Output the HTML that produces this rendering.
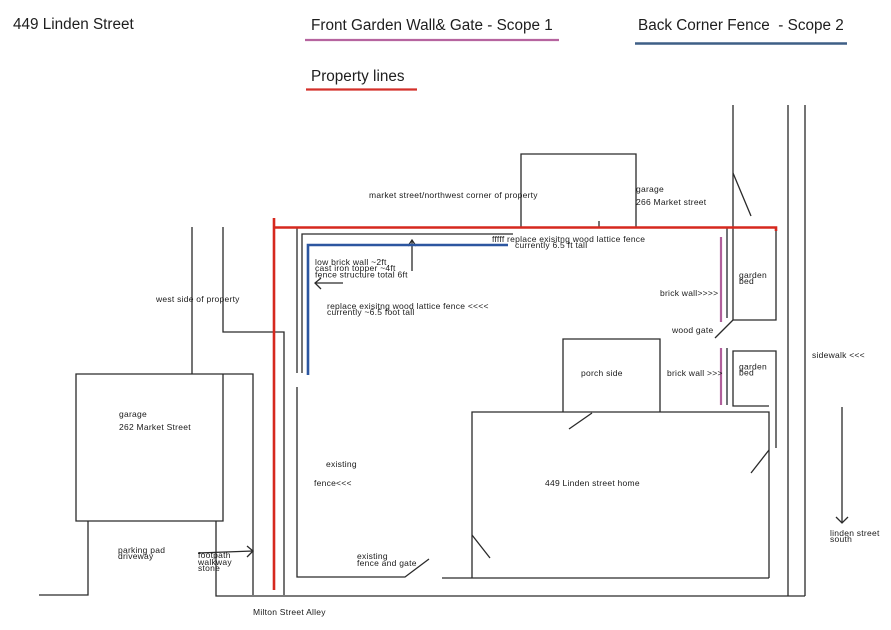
<!DOCTYPE html>
<html>
<head>
<meta charset="utf-8">
<style>
html,body{margin:0;padding:0;background:#fff;}
body{width:891px;height:630px;overflow:hidden;}
svg{display:block;}
.h{font-family:"Liberation Sans",Arial,sans-serif;font-size:15.3px;fill:#1e1e1e;white-space:pre;}
.c{font-family:"Liberation Sans",Arial,sans-serif;font-size:8.5px;letter-spacing:0.25px;fill:#1a1a1a;white-space:pre;}
</style>
</head>
<body>
<svg width="891" height="630" viewBox="0 0 891 630" xmlns="http://www.w3.org/2000/svg">
<rect width="891" height="630" fill="#fff"/>

<!-- Header -->
<text class="h" x="13" y="29">449 Linden Street</text>
<text class="h" x="311" y="30">Front Garden Wall&amp; Gate - Scope 1</text>
<line x1="305" y1="40" x2="559" y2="40" stroke="#b6649f" stroke-width="2.2"/>
<text class="h" x="638" y="30">Back Corner Fence  - Scope 2</text>
<line x1="635" y1="43.5" x2="847" y2="43.5" stroke="#3e5f86" stroke-width="2.6"/>
<text class="h" x="311" y="81">Property lines</text>
<line x1="306" y1="89.5" x2="417" y2="89.5" stroke="#d4302a" stroke-width="2.2"/>

<g fill="none" stroke="#2a2a2a" stroke-width="1.3">
  <!-- left neighbor lines -->
  <line x1="192" y1="227" x2="192" y2="374"/>
  <polyline points="223,227 223,332 284,332 284,595"/>
  <!-- garage 262 -->
  <polyline points="253,595 253,374 76,374 76,521 223,521 223,374"/>
  <polyline points="39,595 88,595 88,521"/>
  <polyline points="216,521 216,596 805,596"/>
  <!-- fence lines left -->
  <line x1="297" y1="227" x2="297" y2="373"/>
  <polyline points="297,387 297,577 405,577 429,559"/>
  <polyline points="302,373 302,234 513,234"/>
  <!-- garage 266 -->
  <polyline points="521,227 521,154 636,154 636,227"/>
  <line x1="599" y1="221" x2="599" y2="227"/>
  <!-- right street lines -->
  <line x1="733" y1="105" x2="733" y2="320"/>
  <line x1="733" y1="173" x2="751" y2="216"/>
  <line x1="788" y1="105" x2="788" y2="596"/>
  <line x1="805" y1="105" x2="805" y2="596"/>
  <!-- garden bed 1 -->
  <polyline points="776,228 776,320 733,320"/>
  <line x1="733" y1="320" x2="715" y2="338"/>
  <!-- garden bed 2 -->
  <polyline points="769,406 733,406 733,351 776,351 776,448"/>
  <!-- porch -->
  <polyline points="563,412 563,339 660,339 660,412"/>
  <!-- house -->
  <polyline points="472,578 472,412 769,412 769,578"/>
  <line x1="442" y1="578" x2="769" y2="578"/>
  <line x1="592" y1="413" x2="569" y2="429"/>
  <line x1="769" y1="450" x2="751" y2="473"/>
  <line x1="472" y1="535" x2="490" y2="558"/>
  <!-- arrows -->
  <line x1="412" y1="240" x2="412" y2="271"/>
  <polyline points="408,246 412,240 416,246"/>
  <line x1="315" y1="283" x2="343" y2="283"/>
  <polyline points="321,278 315,283 321,289"/>
  <line x1="198" y1="553" x2="253" y2="551"/>
  <polyline points="247,546 253,551 247,557"/>
  <line x1="842" y1="407" x2="842" y2="523"/>
  <polyline points="836,517 842,523 848,517"/>
</g>

<!-- grey lines near brick walls -->
<g stroke="#3d4448" stroke-width="1.5">
  <line x1="727" y1="228" x2="727" y2="318"/>
  <line x1="727" y1="348" x2="727" y2="405"/>
</g>
<!-- pink brick walls -->
<g stroke="#b0609c" stroke-width="2.2">
  <line x1="721" y1="237" x2="721" y2="322"/>
  <line x1="721" y1="348" x2="721" y2="405"/>
</g>

<!-- blue fence scope 2 -->
<polyline points="308,375 308,245 508,245" fill="none" stroke="#2c56a0" stroke-width="2.6"/>

<!-- property lines red -->
<g stroke="#d6281e" stroke-width="2.6" fill="none">
  <line x1="274" y1="218" x2="274" y2="590"/>
  <polyline points="274,227.5 776,227.5 776,231"/>
</g>

<!-- CAD labels -->
<text class="c" x="369" y="198">market street/northwest corner of property</text>
<text class="c" x="636" y="192">garage</text>
<text class="c" x="636" y="205">266 Market street</text>
<text class="c" x="492" y="242">fffff replace exisitng wood lattice fence</text>
<text class="c" x="515" y="248">currently 6.5 ft tall</text>
<text class="c" x="315" y="265">low brick wall ~2ft</text>
<text class="c" x="315" y="271">cast iron topper ~4ft</text>
<text class="c" x="315" y="277.5">fence structure total 6ft</text>
<text class="c" x="327" y="309">replace exisitng wood lattice fence &lt;&lt;&lt;&lt;</text>
<text class="c" x="327" y="315">currently ~6.5 foot tall</text>
<text class="c" x="156" y="302">west side of property</text>
<text class="c" x="119" y="417">garage</text>
<text class="c" x="119" y="430">262 Market Street</text>
<text class="c" x="326" y="467">existing</text>
<text class="c" x="314" y="486">fence&lt;&lt;&lt;</text>
<text class="c" x="118" y="553">parking pad</text>
<text class="c" x="118" y="559">driveway</text>
<text class="c" x="198" y="558">footpath</text>
<text class="c" x="198" y="565">walkway</text>
<text class="c" x="198" y="571">stone</text>
<text class="c" x="357" y="559">existing</text>
<text class="c" x="357" y="566">fence and gate</text>
<text class="c" x="253" y="615">Milton Street Alley</text>
<text class="c" x="545" y="486">449 Linden street home</text>
<text class="c" x="581" y="376">porch side</text>
<text class="c" x="667" y="376">brick wall &gt;&gt;&gt;</text>
<text class="c" x="739" y="369.5">garden</text>
<text class="c" x="739" y="375.5">bed</text>
<text class="c" x="739" y="278">garden</text>
<text class="c" x="739" y="284">bed</text>
<text class="c" x="660" y="296">brick wall&gt;&gt;&gt;&gt;</text>
<text class="c" x="672" y="333">wood gate</text>
<text class="c" x="812" y="358">sidewalk &lt;&lt;&lt;</text>
<text class="c" x="830" y="536">linden street</text>
<text class="c" x="830" y="542">south</text>
</svg>
</body>
</html>
